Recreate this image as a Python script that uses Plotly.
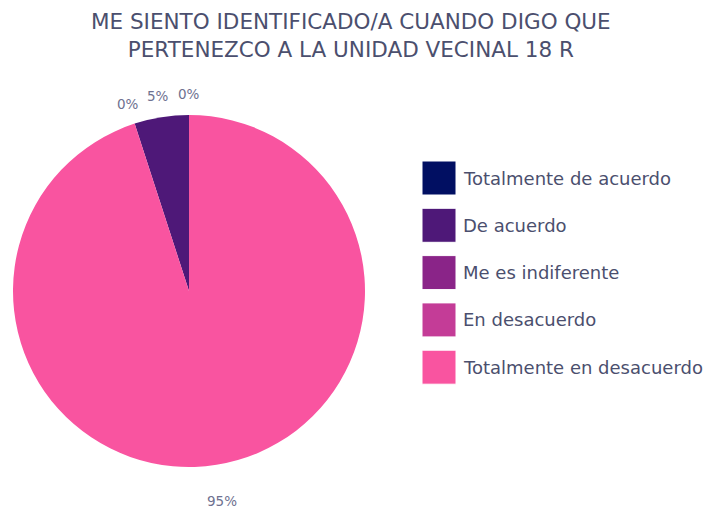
import math
import plotly.graph_objects as go

categories = ["Totalmente de acuerdo", "De acuerdo", "Me es indiferente",
              "En desacuerdo", "Totalmente en desacuerdo"]
values = [0, 5, 0, 0, 95]
colors = ["#010f62", "#4e1878", "#8a2488", "#c43c97", "#f954a0"]
title_lines = ["ME SIENTO IDENTIFICADO/A CUANDO DIGO QUE",
               "PERTENEZCO A LA UNIDAD VECINAL 18 R"]

OFF = 8  # page body offset
W, H = 719 - OFF, 512 - OFF
FONT = "'DejaVu Sans', sans-serif"
TEXT_COLOR = "#4b4f6e"


def px(x):
    return (x - OFF) / W


def py(y):
    return 1 - (y - OFF) / H


CX, CY, R = 189, 291, 176

fig = go.Figure()
fig.add_trace(go.Pie(
    labels=categories, values=values, sort=False, direction="counterclockwise",
    rotation=0, marker=dict(colors=colors, line=dict(width=0)),
    textinfo="none", showlegend=False, hoverinfo="label+percent",
    domain=dict(x=[px(CX - R), px(CX + R)], y=[py(CY + R), py(CY - R)]),
))

shapes = []
annotations = []

# percentage labels outside the slices (identical overlapping labels drawn once)
total = sum(values)
cum = 0.0
seen = set()
for v in values:
    mid = (cum + v / 2) / total * 2 * math.pi
    cum += v
    rl = R + 21 + 16 * max(0.0, -math.cos(mid))
    lx = CX - rl * math.sin(mid)
    ly = CY - rl * math.cos(mid)
    txt = f"{round(v / total * 100)}%"
    key = (round(lx), round(ly), txt)
    if key in seen:
        continue
    seen.add(key)
    annotations.append(dict(x=px(lx), y=py(ly), xref="paper", yref="paper",
                            text=txt, showarrow=False,
                            xanchor="center", yanchor="middle",
                            font=dict(size=13.5, color="#6e7190", family=FONT)))

# legend drawn manually with large swatches
y0 = 178
step = 47.3
for i, (cat, col) in enumerate(zip(categories, colors)):
    yc = y0 + i * step
    shapes.append(dict(type="rect", xref="paper", yref="paper",
                       x0=px(422), x1=px(456),
                       y0=py(yc + 17), y1=py(yc - 17),
                       fillcolor=col, line=dict(width=1, color="white")))
    annotations.append(dict(x=px(461), y=py(yc), xref="paper", yref="paper",
                            text=cat, showarrow=False, xanchor="left", yanchor="middle",
                            font=dict(size=18, color=TEXT_COLOR, family=FONT)))

annotations.append(dict(x=px(351), y=1, xref="paper", yref="paper",
                        text="<br>".join(title_lines), showarrow=False,
                        xanchor="center", yanchor="top", borderpad=0,
                        font=dict(size=21.5, color=TEXT_COLOR, family=FONT)))

fig.update_layout(width=W, height=H, margin=dict(l=0, r=0, t=0, b=0),
                  paper_bgcolor="white", plot_bgcolor="white",
                  shapes=shapes, annotations=annotations)
fig.write_html("out.html")
